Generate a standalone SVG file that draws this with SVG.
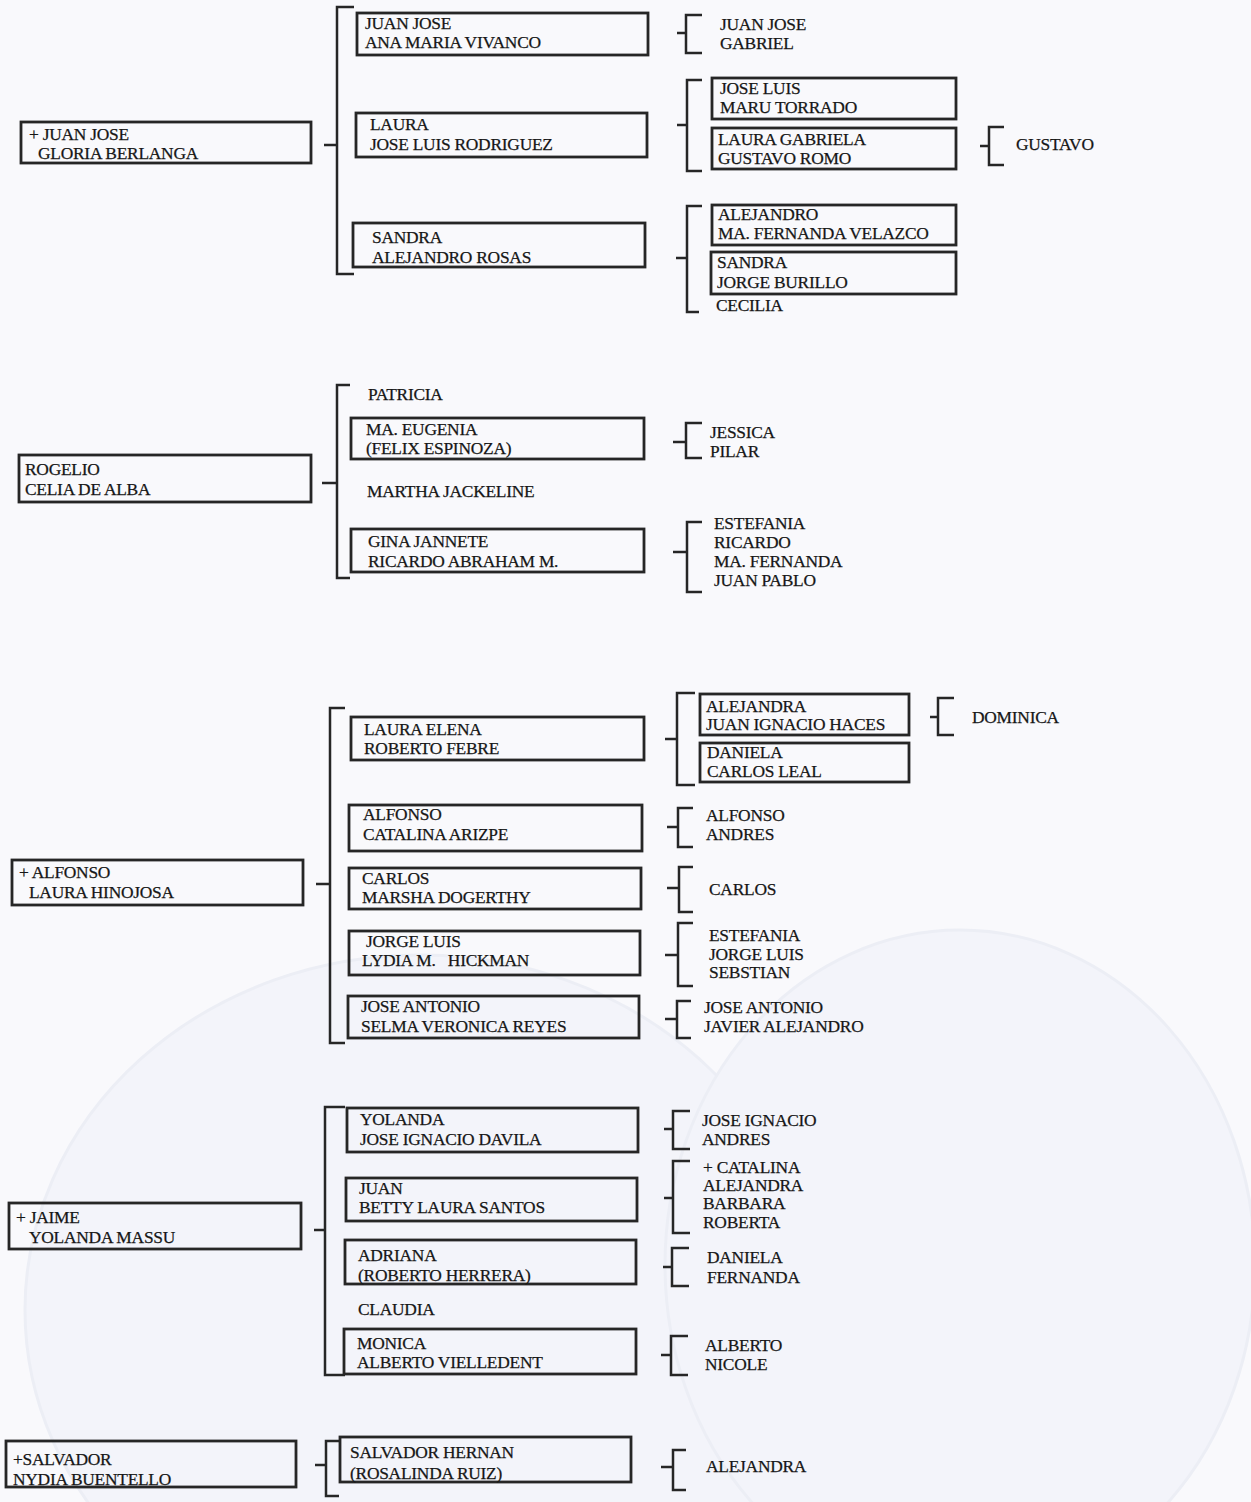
<svg xmlns="http://www.w3.org/2000/svg" width="1251" height="1502" viewBox="0 0 1251 1502">
<defs>
<style>
.bg{fill:#f9f9fc}
.oval{fill:#f3f4fa;stroke:#eceef5;stroke-width:3}
.box{fill:none;stroke:#262626;stroke-width:2.8}
.br{fill:none;stroke:#262626;stroke-width:2.5}
text{font-family:"Liberation Serif","Times New Roman",serif;font-size:17.4px;fill:#161616;stroke:#161616;stroke-width:0.25;letter-spacing:-0.25px}
</style>
</defs>
<rect class="bg" x="0" y="0" width="1251" height="1502"/>
<ellipse class="oval" cx="420" cy="1310" rx="395" ry="355"/>
<ellipse class="oval" cx="960" cy="1265" rx="295" ry="335"/>

<g id="connectors">
<path class="br" d="M324 145H337M354 7H337V274H354"/>
<path class="br" d="M677 33H686M702 15H686V53H702"/>
<path class="br" d="M677 125H687M702 80H687V171H702"/>
<path class="br" d="M980 146H989M1004 127H989V165H1004"/>
<path class="br" d="M676 258H687M702 206H687V312H699"/>
<path class="br" d="M322 483H337M350 385H337V578H350"/>
<path class="br" d="M673 442H686M702 423H686V458H702"/>
<path class="br" d="M673 552H687M702 522H687V592H702"/>
<path class="br" d="M316 884H330M345 708H330V1043H345"/>
<path class="br" d="M665 739H677M695 693H677V785H695"/>
<path class="br" d="M930 717H938M954 698H938V735H954"/>
<path class="br" d="M667 827H678M693 808H678V847H693"/>
<path class="br" d="M667 888H679M693 867H679V912H693"/>
<path class="br" d="M665 955H678M693 923H678V986H693"/>
<path class="br" d="M665 1019H677M691 1001H677V1038H691"/>
<path class="br" d="M314 1230H325M345 1107H325V1375H345"/>
<path class="br" d="M664 1129H673M690 1111H673V1149H690"/>
<path class="br" d="M664 1198H673M690 1161H673V1233H690"/>
<path class="br" d="M663 1267H672M689 1248H672V1286H689"/>
<path class="br" d="M661 1355H671M688 1336H671V1375H688"/>
<path class="br" d="M315 1465H326M339 1441H326V1496H339"/>
<path class="br" d="M661 1467H673M686 1450H673V1490H686"/>
</g>

<g id="n-juanjose-gloria"><rect class="box" x="21" y="122" width="290" height="41"/><text x="29" y="140">+ JUAN JOSE</text><text x="38" y="159">GLORIA BERLANGA</text></g>
<g id="n-juanjose-ana"><rect class="box" x="357" y="13" width="291" height="42"/><text x="365" y="29">JUAN JOSE</text><text x="365" y="48">ANA MARIA VIVANCO</text></g>
<g id="n-laura-joseluis"><rect class="box" x="356" y="113" width="291" height="44"/><text x="370" y="130">LAURA</text><text x="370" y="150">JOSE LUIS RODRIGUEZ</text></g>
<g id="n-sandra-alejandro"><rect class="box" x="353" y="223" width="292" height="44"/><text x="372" y="243">SANDRA</text><text x="372" y="263">ALEJANDRO ROSAS</text></g>
<g id="n-juanjose-gabriel"><text x="720" y="30">JUAN JOSE</text><text x="720" y="49">GABRIEL</text></g>
<g id="n-joseluis-maru"><rect class="box" x="712" y="78" width="244" height="41"/><text x="720" y="94">JOSE LUIS</text><text x="720" y="113">MARU TORRADO</text></g>
<g id="n-lauragabriela-gustavo"><rect class="box" x="712" y="128" width="244" height="41"/><text x="718" y="145">LAURA GABRIELA</text><text x="718" y="164">GUSTAVO ROMO</text></g>
<g id="n-gustavo"><text x="1016" y="150">GUSTAVO</text></g>
<g id="n-alejandro-fernanda"><rect class="box" x="712" y="205" width="244" height="40"/><text x="718" y="220">ALEJANDRO</text><text x="718" y="239">MA. FERNANDA VELAZCO</text></g>
<g id="n-sandra-jorge"><rect class="box" x="711" y="252" width="245" height="42"/><text x="717" y="268">SANDRA</text><text x="717" y="288">JORGE BURILLO</text></g>
<g id="n-cecilia"><text x="716" y="311">CECILIA</text></g>

<g id="n-rogelio-celia"><rect class="box" x="19" y="455" width="292" height="47"/><text x="25" y="475">ROGELIO</text><text x="25" y="495">CELIA DE ALBA</text></g>
<g id="n-patricia"><text x="368" y="400">PATRICIA</text></g>
<g id="n-eugenia-felix"><rect class="box" x="351" y="418" width="293" height="41"/><text x="366" y="435">MA. EUGENIA</text><text x="366" y="454">(FELIX ESPINOZA)</text></g>
<g id="n-martha"><text x="367" y="497">MARTHA JACKELINE</text></g>
<g id="n-gina-ricardo"><rect class="box" x="351" y="529" width="293" height="43"/><text x="368" y="547">GINA JANNETE</text><text x="368" y="567">RICARDO ABRAHAM M.</text></g>
<g id="n-jessica-pilar"><text x="710" y="438">JESSICA</text><text x="710" y="457">PILAR</text></g>
<g id="n-estefania-juanpablo"><text x="714" y="529">ESTEFANIA</text><text x="714" y="548">RICARDO</text><text x="714" y="567">MA. FERNANDA</text><text x="714" y="586">JUAN PABLO</text></g>

<g id="n-alfonso-laura"><rect class="box" x="12" y="860" width="291" height="45"/><text x="19" y="878">+ ALFONSO</text><text x="29" y="898">LAURA HINOJOSA</text></g>
<g id="n-lauraelena-roberto"><rect class="box" x="351" y="717" width="293" height="43"/><text x="364" y="735">LAURA ELENA</text><text x="364" y="754">ROBERTO FEBRE</text></g>
<g id="n-alfonso-catalina"><rect class="box" x="349" y="805" width="293" height="46"/><text x="363" y="820">ALFONSO</text><text x="363" y="840">CATALINA ARIZPE</text></g>
<g id="n-carlos-marsha"><rect class="box" x="349" y="868" width="292" height="41"/><text x="362" y="884">CARLOS</text><text x="362" y="903">MARSHA DOGERTHY</text></g>
<g id="n-jorgeluis-lydia"><rect class="box" x="349" y="931" width="291" height="44"/><text x="366" y="947">JORGE LUIS</text><text x="362" y="966" xml:space="preserve">LYDIA M.   HICKMAN</text></g>
<g id="n-joseantonio-selma"><rect class="box" x="348" y="996" width="291" height="42"/><text x="361" y="1012">JOSE ANTONIO</text><text x="361" y="1032">SELMA VERONICA REYES</text></g>
<g id="n-alejandra-juanignacio"><rect class="box" x="700" y="694" width="209" height="41"/><text x="706" y="712">ALEJANDRA</text><text x="706" y="730">JUAN IGNACIO HACES</text></g>
<g id="n-daniela-carlos"><rect class="box" x="700" y="743" width="209" height="39"/><text x="707" y="758">DANIELA</text><text x="707" y="777">CARLOS LEAL</text></g>
<g id="n-dominica"><text x="972" y="723">DOMINICA</text></g>
<g id="n-alfonso-andres"><text x="706" y="821">ALFONSO</text><text x="706" y="840">ANDRES</text></g>
<g id="n-carlos"><text x="709" y="895">CARLOS</text></g>
<g id="n-estefania-sebstian"><text x="709" y="941">ESTEFANIA</text><text x="709" y="960">JORGE LUIS</text><text x="709" y="978">SEBSTIAN</text></g>
<g id="n-joseantonio-javier"><text x="704" y="1013">JOSE ANTONIO</text><text x="704" y="1032">JAVIER ALEJANDRO</text></g>

<g id="n-jaime-yolanda"><rect class="box" x="9" y="1203" width="292" height="46"/><text x="16" y="1223">+ JAIME</text><text x="29" y="1243">YOLANDA MASSU</text></g>
<g id="n-yolanda-joseignacio"><rect class="box" x="347" y="1108" width="291" height="44"/><text x="360" y="1125">YOLANDA</text><text x="360" y="1145">JOSE IGNACIO DAVILA</text></g>
<g id="n-juan-betty"><rect class="box" x="346" y="1178" width="291" height="43"/><text x="359" y="1194">JUAN</text><text x="359" y="1213">BETTY LAURA SANTOS</text></g>
<g id="n-adriana-roberto"><rect class="box" x="345" y="1240" width="291" height="44"/><text x="358" y="1261">ADRIANA</text><text x="358" y="1281">(ROBERTO HERRERA)</text></g>
<g id="n-claudia"><text x="358" y="1315">CLAUDIA</text></g>
<g id="n-monica-alberto"><rect class="box" x="344" y="1329" width="292" height="45"/><text x="357" y="1349">MONICA</text><text x="357" y="1368">ALBERTO VIELLEDENT</text></g>
<g id="n-joseignacio-andres"><text x="702" y="1126">JOSE IGNACIO</text><text x="702" y="1145">ANDRES</text></g>
<g id="n-catalina-roberta"><text x="703" y="1173">+ CATALINA</text><text x="703" y="1191">ALEJANDRA</text><text x="703" y="1209">BARBARA</text><text x="703" y="1228">ROBERTA</text></g>
<g id="n-daniela-fernanda"><text x="707" y="1263">DANIELA</text><text x="707" y="1283">FERNANDA</text></g>
<g id="n-alberto-nicole"><text x="705" y="1351">ALBERTO</text><text x="705" y="1370">NICOLE</text></g>

<g id="n-salvador-nydia"><rect class="box" x="6" y="1441" width="290" height="46"/><text x="13" y="1465">+SALVADOR</text><text x="13" y="1485">NYDIA BUENTELLO</text></g>
<g id="n-salvadorhernan-rosalinda"><rect class="box" x="340" y="1437" width="291" height="45"/><text x="350" y="1458">SALVADOR HERNAN</text><text x="350" y="1479">(ROSALINDA RUIZ)</text></g>
<g id="n-alejandra"><text x="706" y="1472">ALEJANDRA</text></g>
</svg>
